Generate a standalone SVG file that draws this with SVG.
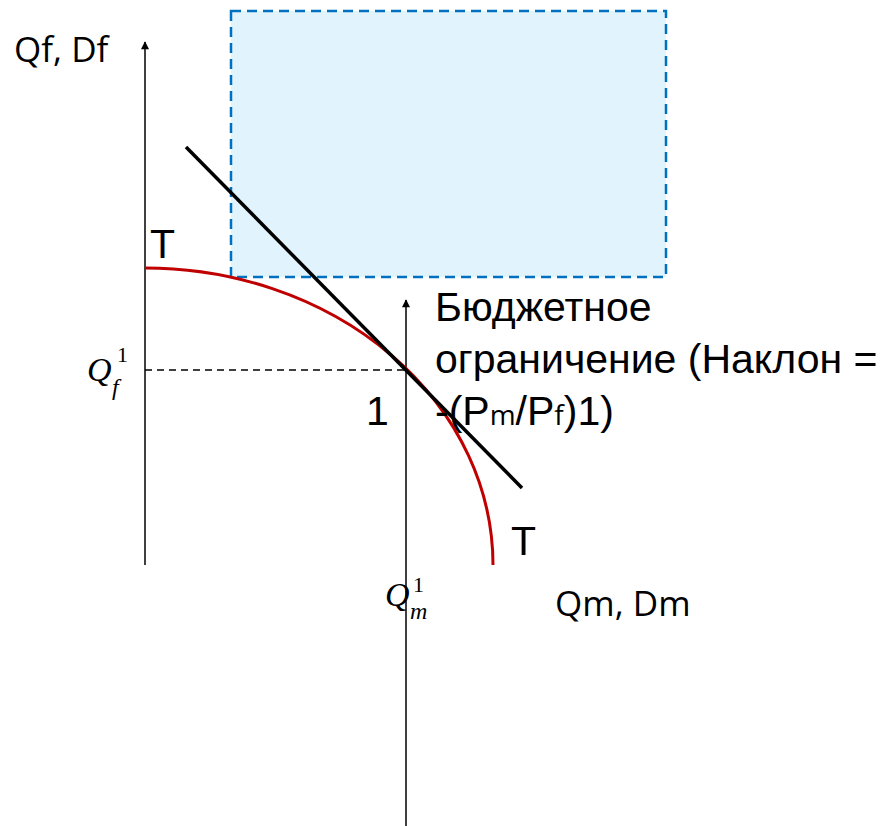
<svg xmlns="http://www.w3.org/2000/svg" width="889" height="826" viewBox="0 0 889 826">
<style>
.ax{stroke:#000;stroke-width:1.5;fill:none}
.lbl{font-family:"Liberation Sans",Arial,sans-serif;font-size:41px;fill:#000}
.seg{font-family:"Open Sans","Liberation Sans",sans-serif;fill:#000}
.math{font-family:"Liberation Serif","DejaVu Serif",serif;fill:#000}
</style>
<defs>
<marker id="arr" viewBox="0 0 10 10" refX="9" refY="5" markerWidth="9" markerHeight="8" markerUnits="userSpaceOnUse" orient="auto">
<path d="M0,0 L10,5 L0,10 z" fill="#000"/>
</marker>
</defs>
<rect id="region" x="231" y="11" width="435" height="266" fill="#E1F3FC" stroke="#0070C0" stroke-width="2.5" stroke-dasharray="10,6"/>
<g id="connectors">
<line class="ax" x1="145" y1="565" x2="145" y2="42" marker-end="url(#arr)"/>
<line class="ax" x1="406" y1="826" x2="406" y2="300" marker-end="url(#arr)"/>
<line x1="145" y1="370" x2="406" y2="370" stroke="#000" stroke-width="1.4" stroke-dasharray="7,5"/>
</g>
<g id="curve-T">
<path d="M145,268 A348,297 0 0,1 493,565" fill="none" stroke="#C00000" stroke-width="3"/>
</g>
<g id="budget-line">
<line x1="186" y1="147" x2="522" y2="488" stroke="#000" stroke-width="3.5"/>
</g>
<g id="labels">
<text class="seg" x="14" y="62" font-size="35">Qf, Df</text>
<text class="seg" x="555" y="616" font-size="35">Qm, Dm</text>
<text class="lbl" x="150" y="258">T</text>
<text class="lbl" x="511" y="555">T</text>
<text class="lbl" x="366" y="425">1</text>
<text class="lbl" x="435" y="321">Бюджетное</text>
<text class="lbl" x="435" y="373">ограничение (Наклон =</text>
<text class="lbl" x="435" y="425">-(P<tspan class="seg" font-size="28">m</tspan>/P<tspan class="seg" font-size="28">f</tspan>)1)</text>
<text class="math" x="87" y="381" font-size="34" font-style="italic">Q</text>
<text class="math" x="117" y="362" font-size="22">1</text>
<text class="math" x="112" y="395" font-size="24" font-style="italic">f</text>
<text class="math" x="385" y="606" font-size="34" font-style="italic">Q</text>
<text class="math" x="413" y="592" font-size="22">1</text>
<text class="math" x="410" y="619" font-size="24" font-style="italic">m</text>
</g>
</svg>
